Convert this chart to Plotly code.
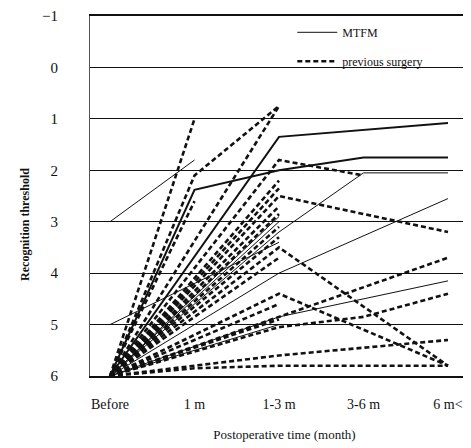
import plotly.graph_objects as go

categories = ["Before", "1 m", "1-3 m", "3-6 m", "6 m<"]
y_ticks = [-1, 0, 1, 2, 3, 4, 5, 6]

# MTFM patients (solid lines); None = not measured
mtfm_1 = [3.0, 1.8, None, None, None]
mtfm_2 = [6.0, 2.38, 2.0, 1.75, 1.75]
mtfm_3 = [6.0, None, 3.2, 2.05, 2.05]
mtfm_4 = [6.0, None, 1.35, None, 1.08]
mtfm_5 = [5.0, None, 3.4, None, None]
mtfm_6 = [6.0, None, 4.85, None, 4.15]
mtfm_7 = [6.0, None, 4.0, None, 2.55]
mtfm_8 = [6.0, None, 2.9, None, None]
mtfm_9 = [6.0, None, 3.0, None, None]
mtfm_10 = [6.0, None, 5.0, None, None]

# previous surgery patients (dashed lines)
prev_1 = [6.0, 1.0, None, None, None]
prev_2 = [6.0, 2.1, 0.75, None, None]
prev_3 = [6.0, None, 0.75, None, None]
prev_4 = [6.0, None, 1.8, 2.1, None]
prev_5 = [6.0, None, 2.5, None, 3.2]
prev_6 = [6.0, None, 3.5, None, 5.8]
prev_7 = [6.0, None, 4.4, None, 5.8]
prev_8 = [6.0, None, None, None, 3.7]
prev_9 = [6.0, None, 5.05, 4.85, 4.4]
prev_10 = [6.0, None, 5.6, None, 5.3]
prev_11 = [6.0, 5.85, 5.8, 5.8, 5.8]
prev_12 = [6.0, None, 2.2, None, None]
prev_13 = [6.0, None, 2.35, None, None]
prev_14 = [6.0, None, 2.7, None, None]
prev_15 = [6.0, None, 2.85, None, None]
prev_16 = [6.0, None, 3.1, None, None]
prev_17 = [6.0, None, 3.3, None, None]
prev_18 = [6.0, None, 3.7, None, None]
prev_19 = [6.0, None, 4.6, None, None]
prev_20 = [6.0, None, 4.9, None, None]
prev_21 = [6.0, 2.6, None, None, None]

mtfm_series = [mtfm_1, mtfm_2, mtfm_3, mtfm_4, mtfm_5, mtfm_6, mtfm_7, mtfm_8, mtfm_9, mtfm_10]
prev_series = [prev_1, prev_2, prev_3, prev_4, prev_5, prev_6, prev_7, prev_8, prev_9, prev_10,
               prev_11, prev_12, prev_13, prev_14, prev_15, prev_16, prev_17, prev_18, prev_19,
               prev_20, prev_21]

xpos = list(range(len(categories)))
SERIF = "Liberation Serif, Times New Roman, serif"

fig = go.Figure()
for i, s in enumerate(prev_series):
    fig.add_trace(go.Scatter(
        x=xpos, y=s, mode="lines", connectgaps=True,
        line=dict(color="#111111", width=2.6, dash="5px,3px"),
        name="previous surgery", legendgroup="prev", legendrank=2,
        showlegend=(i == 0)))
for i, s in enumerate(mtfm_series):
    fig.add_trace(go.Scatter(
        x=xpos, y=s, mode="lines", connectgaps=True,
        line=dict(color="#111111", width=2.0 if i in (1, 3) else 1.0),
        name="MTFM", legendgroup="mtfm", legendrank=1,
        showlegend=(i == 0)))

fig.update_layout(
    width=471, height=448,
    margin=dict(l=82, r=0, t=8, b=80),
    plot_bgcolor="white", paper_bgcolor="white",
    font=dict(family=SERIF, color="#111111", size=13),
    legend=dict(x=0.52, y=0.995, xanchor="left", yanchor="top",
                bgcolor="rgba(0,0,0,0)", tracegroupgap=10,
                font=dict(family=SERIF, size=12), itemwidth=40),
    xaxis=dict(range=[-0.237, 4.367], tickvals=xpos, ticktext=categories,
               showgrid=False, zeroline=False, showline=True, mirror=True,
               linecolor="#111111", linewidth=2, automargin=False,
               tickfont=dict(family=SERIF, size=14), ticks="",
               ticklabelstandoff=14,
               title=dict(text="Postoperative time (month)",
                          font=dict(family=SERIF, size=13), standoff=19)),
    yaxis=dict(range=[6.0, -1.0], tickvals=y_ticks, automargin=False,
               showgrid=True, gridcolor="#111111", gridwidth=1.4,
               zeroline=False, showline=True, linecolor="#555555", linewidth=1,
               tickfont=dict(family=SERIF, size=15), ticks="",
               ticklabelstandoff=28),
    annotations=[dict(text="<b>Recognition threshold</b>", textangle=-90,
                      xref="paper", yref="paper", x=-0.19, y=0.42,
                      showarrow=False, font=dict(family=SERIF, size=12))],
)

fig.write_html("out.html")
